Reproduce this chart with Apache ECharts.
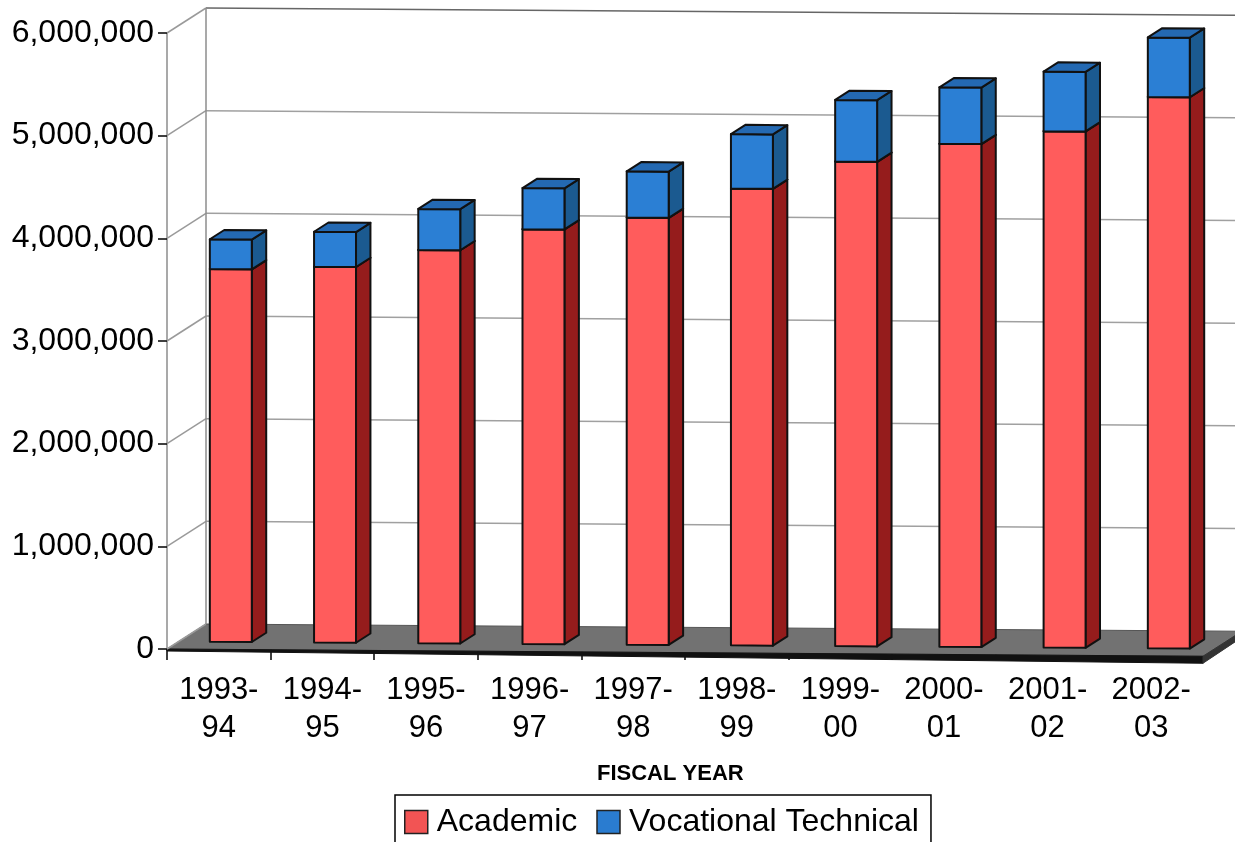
<!DOCTYPE html>
<html>
<head>
<meta charset="utf-8">
<title>Enrollment by Fiscal Year</title>
<script src="https://cdn.jsdelivr.net/npm/echarts@6/dist/echarts.min.js"></script>
<style>
  html, body { margin: 0; padding: 0; background: #ffffff; }
  #chart { width: 1235px; height: 842px; }
</style>
</head>
<body>
<div id="chart"></div>
<script>
// Fiscal years on the category axis
const categories = ['1993-\n94', '1994-\n95', '1995-\n96', '1996-\n97', '1997-\n98',
                    '1998-\n99', '1999-\n00', '2000-\n01', '2001-\n02', '2002-\n03'];

// Stacked series values
const academic   = [3630000, 3660000, 3830000, 4040000, 4160000, 4450000, 4720000, 4900000, 5030000, 5370000];
const vocational = [290000, 340000, 400000, 400000, 450000, 530000, 600000, 550000, 580000, 580000];

// Value axis range
const yMin = 0, yMax = 6000000, yStep = 1000000;

const FONT = '"Liberation Sans", Arial, Helvetica, sans-serif';

// Oblique projection of the 3-D box: depth d in [0,1] moves right and up,
// and the whole scene leans slightly downwards towards the right.
const DX = 39, DY = 25, TILT = 0.007;
const BAR_D0 = 0.30, BAR_DD = 0.37, BAR_W = 0.405;

function makeProj(left) {
  return function (x, y, d) {
    return [x + d * DX, y - d * DY + TILT * (x - left)];
  };
}

// Walls, floor and gridlines of the 3-D frame
function renderFrame(params, api) {
  const cs = params.coordSys;
  const L = cs.x, R = cs.x + cs.width;
  const P = makeProj(L);
  const kids = [];
  const y0 = api.coord([0, yMin])[1];

  // floor top face
  kids.push({ type: 'polygon', shape: { points: [P(L, y0, 0), P(R, y0, 0), P(R, y0, 1), P(L, y0, 1)] },
              style: { fill: '#727272', stroke: '#555', lineWidth: 1 } });
  // floor front face (thickness grows toward the right)
  const fr = P(R, y0, 0), fl = P(L, y0, 0), br = P(R, y0, 1);
  kids.push({ type: 'polygon', shape: { points: [fl, fr, [fr[0], fr[1] + 7], [fl[0], fl[1] + 2]] },
              style: { fill: '#111', stroke: '#111', lineWidth: 1 } });
  kids.push({ type: 'polygon', shape: { points: [fr, br, [br[0], br[1] + 6], [fr[0], fr[1] + 7]] },
              style: { fill: '#333', stroke: '#333', lineWidth: 1 } });

  for (let v = yMin; v <= yMax; v += yStep) {
    const yv = api.coord([0, v])[1];
    // side wall diagonal
    kids.push({ type: 'line', shape: { x1: P(L, yv, 0)[0], y1: P(L, yv, 0)[1], x2: P(L, yv, 1)[0], y2: P(L, yv, 1)[1] },
                style: { stroke: '#9a9a9a', lineWidth: 1.5 } });
    if (v > yMin) {
      // back wall gridline
      const a = P(L, yv, 1), b = P(R + 40, yv, 1);
      kids.push({ type: 'line', shape: { x1: a[0], y1: a[1], x2: b[0], y2: b[1] },
                  style: { stroke: v === yMax ? '#666' : '#a0a0a0', lineWidth: 1.5 } });
    }
  }
  // back-left vertical edge
  const ytop = api.coord([0, yMax])[1];
  const bb = P(L, y0, 1), bt = P(L, ytop, 1);
  kids.push({ type: 'line', shape: { x1: bb[0], y1: bb[1], x2: bt[0], y2: bt[1] },
              style: { stroke: '#8c8c8c', lineWidth: 1.5 } });
  return { type: 'group', children: kids };
}

// Draws one segment of a stacked 3-D column
function makeBarRenderer(front, side, top) {
  return function (params, api) {
    const cs = params.coordSys;
    const L = cs.x;
    const P = makeProj(L);
    const idx = api.value(0);
    const base = api.value(1);
    const val = api.value(2);
    const c = api.coord([idx, base]);
    const band = api.size([1, 0])[0];
    const drift = 0.006 * (c[0] - L);
    const w = band * BAR_W;
    const xl = c[0] - w / 2 + drift, xr = c[0] + w / 2 + drift;
    const ya = c[1];
    const yb = api.coord([idx, base + val])[1];
    const d0 = BAR_D0, d1 = BAR_D0 + BAR_DD;
    const line = { stroke: '#111', lineWidth: 2, lineJoin: 'round' };
    return {
      type: 'group',
      children: [
        { type: 'polygon', shape: { points: [P(xr, ya, d0), P(xr, ya, d1), P(xr, yb, d1), P(xr, yb, d0)] },
          style: Object.assign({ fill: side }, line) },
        { type: 'polygon', shape: { points: [P(xl, ya, d0), P(xr, ya, d0), P(xr, yb, d0), P(xl, yb, d0)] },
          style: Object.assign({ fill: front }, line) },
        { type: 'polygon', shape: { points: [P(xl, yb, d0), P(xr, yb, d0), P(xr, yb, d1), P(xl, yb, d1)] },
          style: Object.assign({ fill: top }, line) }
      ]
    };
  };
}

const academicData = academic.map((v, i) => [i, 0, v]);
const vocationalData = vocational.map((v, i) => [i, academic[i], v]);

const chart = echarts.init(document.getElementById('chart'), null, { renderer: 'canvas' });

chart.setOption({
  backgroundColor: '#ffffff',
  animation: false,
  textStyle: { fontFamily: FONT },
  grid: { left: 167, right: 32, top: 33, bottom: 193, containLabel: false },
  xAxis: {
    type: 'category',
    data: categories,
    axisLine: { show: false },
    axisTick: { show: true, length: 11, lineStyle: { color: '#000', width: 1.5 } },
    axisLabel: { fontSize: 31, lineHeight: 38, color: '#000', margin: 22, fontFamily: FONT },
    splitLine: { show: false }
  },
  yAxis: {
    type: 'value',
    min: yMin, max: yMax, interval: yStep,
    axisLine: { show: true, lineStyle: { color: '#8c8c8c', width: 1.5 } },
    axisTick: { show: true, length: 9, lineStyle: { color: '#000', width: 1.5 } },
    axisLabel: {
      fontSize: 32, color: '#000', margin: 13, fontFamily: FONT,
      formatter: v => v.toLocaleString('en-US')
    },
    splitLine: { show: false }
  },
  legend: {
    left: 395, top: 795,
    orient: 'horizontal',
    itemWidth: 23, itemHeight: 23, itemGap: 19,
    padding: [11, 12, 10, 9],
    borderColor: '#000', borderWidth: 1.5,
    backgroundColor: '#fff',
    selectedMode: false,
    textStyle: { fontSize: 32, color: '#000', fontFamily: FONT, padding: [0, 0, 0, 4] },
    data: [
      { name: 'Academic', icon: 'rect', itemStyle: { color: '#f25454', borderColor: '#222', borderWidth: 1.5 } },
      { name: 'Vocational Technical', icon: 'rect', itemStyle: { color: '#2a7cd0', borderColor: '#222', borderWidth: 1.5 } }
    ]
  },
  graphic: [
    { type: 'text', left: 597, top: 763,
      style: { text: 'FISCAL YEAR', font: 'bold 22px ' + FONT, fill: '#000' } }
  ],
  series: [
    {
      name: 'frame', type: 'custom', z: 1, silent: true,
      data: [[0, 0, 0]],
      renderItem: renderFrame
    },
    {
      name: 'Academic', type: 'custom', z: 3,
      itemStyle: { color: '#ff5c5c' },
      data: academicData,
      encode: { x: 0, y: 2 },
      renderItem: makeBarRenderer('#ff5c5c', '#951c1c', '#d94848')
    },
    {
      name: 'Vocational Technical', type: 'custom', z: 3,
      itemStyle: { color: '#2a7cd0' },
      data: vocationalData,
      encode: { x: 0, y: 2 },
      renderItem: makeBarRenderer('#2b7fd4', '#1b5a90', '#2469b2')
    }
  ]
});
</script>
</body>
</html>
